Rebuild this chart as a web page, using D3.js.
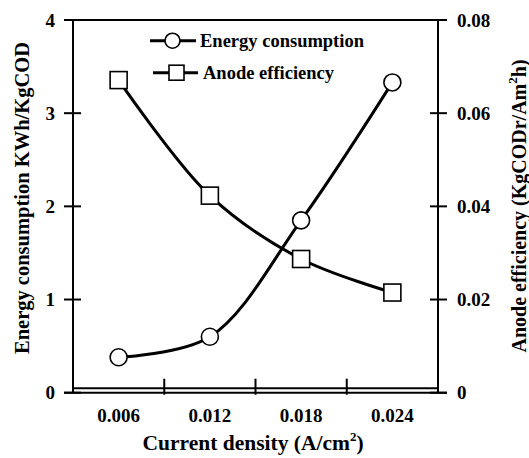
<!DOCTYPE html>
<html>
<head>
<meta charset="utf-8">
<script src="https://cdn.jsdelivr.net/npm/d3@7"></script>
<style>
  body { margin: 0; background: #fff; }
  text { font-family: "Liberation Serif", "Times New Roman", serif; font-weight: bold; fill: #000; }
</style>
</head>
<body>
<div id="container"></div>
<script>
// data
var density = [0.006, 0.012, 0.018, 0.024];
var energy = [0.38, 0.60, 1.85, 3.33];          // KWh/KgCOD, left axis
var anode = [0.0671, 0.0423, 0.0287, 0.0215];   // KgCODr/Am2h, right axis
var xLabels = [0.006, 0.012, 0.018, 0.024];
var xMinor = [0.009, 0.015, 0.021];
var yLeftTicks = [0, 1, 2, 3, 4];
var yRightTicks = [0, 0.02, 0.04, 0.06, 0.08];

var width = 529, height = 458;
var pLeft = 73, pRight = 438, pTop = 20, pBottom = 392.7;

var svg = d3.select("#container").append("svg")
    .attr("width", width)
    .attr("height", height);

var x = d3.scaleLinear().domain([0.003, 0.027]).range([pLeft, pRight]);
var yL = d3.scaleLinear().domain([0, 4]).range([pBottom, pTop]);
var yR = d3.scaleLinear().domain([0, 0.08]).range([pBottom, pTop]);

// frame
var frame = svg.append("g").attr("stroke", "#000").attr("stroke-width", 2).attr("fill", "none");
frame.append("line").attr("x1", pLeft).attr("x2", pLeft).attr("y1", pTop).attr("y2", pBottom);
frame.append("line").attr("x1", pRight).attr("x2", pRight).attr("y1", pTop).attr("y2", pBottom);
frame.append("line").attr("x1", pLeft - 9).attr("x2", pRight + 9).attr("y1", pTop).attr("y2", pTop);
// double bottom line
frame.append("line").attr("x1", pLeft).attr("x2", pRight).attr("y1", pBottom - 4.5).attr("y2", pBottom - 4.5);
frame.append("line").attr("x1", pLeft - 9).attr("x2", pRight + 9).attr("y1", pBottom).attr("y2", pBottom);

// left ticks
var gl = svg.append("g");
gl.selectAll("line").data(yLeftTicks).join("line")
    .attr("x1", pLeft - 9).attr("x2", pLeft + 8)
    .attr("y1", d => yL(d)).attr("y2", d => yL(d))
    .attr("stroke", "#000").attr("stroke-width", 2);
gl.selectAll("text").data(yLeftTicks).join("text")
    .attr("x", 55).attr("y", d => yL(d) + 6.5)
    .attr("text-anchor", "end")
    .style("font-size", "19px")
    .text(d => d);

// right ticks
var gr = svg.append("g");
gr.selectAll("line").data(yRightTicks).join("line")
    .attr("x1", pRight - 8).attr("x2", pRight + 9)
    .attr("y1", d => yR(d)).attr("y2", d => yR(d))
    .attr("stroke", "#000").attr("stroke-width", 2);
gr.selectAll("text").data(yRightTicks).join("text")
    .attr("x", 457).attr("y", d => yR(d) + 6.5)
    .style("font-size", "19px")
    .text(d => d === 0 ? "0" : d.toFixed(2));

// bottom ticks + labels
var gb = svg.append("g");
gb.selectAll("line").data(xMinor).join("line")
    .attr("x1", d => x(d)).attr("x2", d => x(d))
    .attr("y1", pBottom - 14).attr("y2", pBottom + 2)
    .attr("stroke", "#000").attr("stroke-width", 2);
gb.selectAll("text").data(xLabels).join("text")
    .attr("x", d => x(d)).attr("y", 422)
    .attr("text-anchor", "middle")
    .style("font-size", "19px")
    .text(d => d.toFixed(3));

// lines
var lineE = d3.line()
    .x((d, i) => x(density[i]))
    .y(d => yL(d))
    .curve(d3.curveCatmullRom.alpha(0.5));
var lineA = d3.line()
    .x((d, i) => x(density[i]))
    .y(d => yR(d))
    .curve(d3.curveCatmullRom.alpha(0.5));

svg.append("path").datum(energy).attr("d", lineE)
    .attr("fill", "none").attr("stroke", "#000").attr("stroke-width", 3);
svg.append("path").datum(anode).attr("d", lineA)
    .attr("fill", "none").attr("stroke", "#000").attr("stroke-width", 3);

svg.selectAll(".circle").data(energy).join("circle")
    .attr("class", "circle")
    .attr("cx", (d, i) => x(density[i]))
    .attr("cy", d => yL(d))
    .attr("r", 8.5)
    .attr("fill", "#fff").attr("stroke", "#000").attr("stroke-width", 1.6);

svg.selectAll(".sq").data(anode).join("rect")
    .attr("class", "sq")
    .attr("x", (d, i) => x(density[i]) - 8.5)
    .attr("y", d => yR(d) - 8.5)
    .attr("width", 17).attr("height", 17)
    .attr("fill", "#fff").attr("stroke", "#000").attr("stroke-width", 1.6);

// legend
var lg = svg.append("g");
lg.append("line").attr("x1", 150).attr("x2", 196).attr("y1", 40.7).attr("y2", 40.7)
    .attr("stroke", "#000").attr("stroke-width", 3);
lg.append("circle").attr("cx", 172.5).attr("cy", 40.7).attr("r", 7.5)
    .attr("fill", "#fff").attr("stroke", "#000").attr("stroke-width", 1.6);
lg.append("text").attr("x", 200).attr("y", 46.5).style("font-size", "18.5px").text("Energy consumption");
lg.append("line").attr("x1", 153).attr("x2", 198).attr("y1", 72.7).attr("y2", 72.7)
    .attr("stroke", "#000").attr("stroke-width", 3);
lg.append("rect").attr("x", 169).attr("y", 65.2).attr("width", 15).attr("height", 15)
    .attr("fill", "#fff").attr("stroke", "#000").attr("stroke-width", 1.6);
lg.append("text").attr("x", 203).attr("y", 79).style("font-size", "18.5px").text("Anode efficiency");

// axis titles
var xt = svg.append("text").attr("x", 253).attr("y", 450)
    .attr("text-anchor", "middle").style("font-size", "21.5px");
xt.append("tspan").text("Current density (A/cm");
xt.append("tspan").attr("dy", -9).style("font-size", "13px").text("2");
xt.append("tspan").attr("dy", 9).text(")");

svg.append("text")
    .attr("transform", "translate(29,198) rotate(-90)")
    .attr("text-anchor", "middle").style("font-size", "20.5px")
    .text("Energy consumption KWh/KgCOD");

var yt = svg.append("text")
    .attr("transform", "translate(526,206) rotate(-90)")
    .attr("text-anchor", "middle").style("font-size", "20px");
yt.append("tspan").text("Anode efficiency (KgCODr/Am");
yt.append("tspan").attr("dy", -9).style("font-size", "13px").text("2");
yt.append("tspan").attr("dy", 9).text("h)");
</script>
</body>
</html>
